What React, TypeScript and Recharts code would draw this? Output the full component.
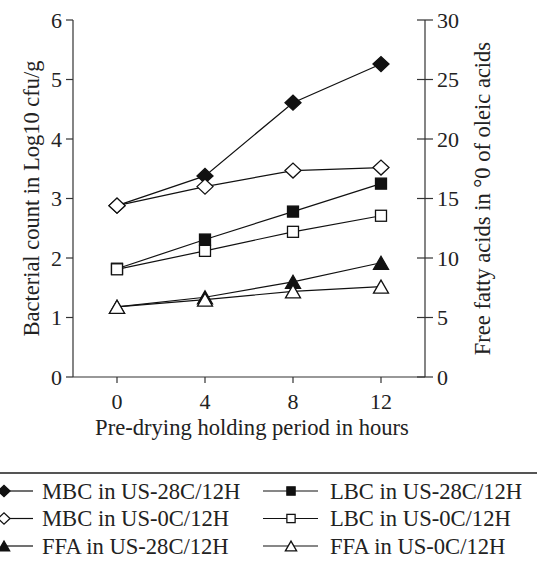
import React from 'react';
import { LineChart, Line, XAxis, YAxis } from 'recharts';

// values
const hours = [0, 4, 8, 12];
const mbcWarm = [2.88, 3.38, 4.61, 5.26];
const mbcCold = [2.88, 3.2, 3.47, 3.52];
const lbcWarm = [1.82, 2.31, 2.78, 3.25];
const lbcCold = [1.81, 2.12, 2.44, 2.71];
const ffaWarm = [5.9, 6.7, 8.0, 9.6];
const ffaCold = [5.9, 6.5, 7.2, 7.6];

const leftTicks = [0, 1, 2, 3, 4, 5, 6];
const rightTicks = [0, 5, 10, 15, 20, 25, 30];
const hourTicks = [0, 4, 8, 12];

const FONT = '"Liberation Serif", "Times New Roman", serif';

type Shape = 'diamond' | 'square' | 'triangle';

const series = [
  { key: 'mbcWarm', name: 'MBC in US-28C/12H', shape: 'diamond' as Shape, filled: true, axis: 'left' },
  { key: 'mbcCold', name: 'MBC in US-0C/12H', shape: 'diamond' as Shape, filled: false, axis: 'left' },
  { key: 'ffaWarm', name: 'FFA in US-28C/12H', shape: 'triangle' as Shape, filled: true, axis: 'right' },
  { key: 'lbcWarm', name: 'LBC in US-28C/12H', shape: 'square' as Shape, filled: true, axis: 'left' },
  { key: 'lbcCold', name: 'LBC in US-0C/12H', shape: 'square' as Shape, filled: false, axis: 'left' },
  { key: 'ffaCold', name: 'FFA in US-0C/12H', shape: 'triangle' as Shape, filled: false, axis: 'right' },
];

const data = hours.map((h, i) => ({
  h,
  mbcWarm: mbcWarm[i],
  mbcCold: mbcCold[i],
  lbcWarm: lbcWarm[i],
  lbcCold: lbcCold[i],
  ffaWarm: ffaWarm[i],
  ffaCold: ffaCold[i],
}));

function Marker({ shape, filled, cx, cy, s = 1 }: { shape: Shape; filled: boolean; cx: number; cy: number; s?: number }) {
  const fill = filled ? '#111' : '#fff';
  if (shape === 'diamond') {
    const w = 8 * s, hh = 7.5 * s;
    return <polygon points={`${cx - w},${cy} ${cx},${cy - hh} ${cx + w},${cy} ${cx},${cy + hh}`} fill={fill} stroke="#111" strokeWidth={1.3} />;
  }
  if (shape === 'square') {
    const a = 5.5 * s;
    return <rect x={cx - a} y={cy - a} width={2 * a} height={2 * a} fill={fill} stroke="#111" strokeWidth={1.3} />;
  }
  const w = 7.5 * s, hh = 6.5 * s;
  return <polygon points={`${cx - w},${cy + hh} ${cx},${cy - hh} ${cx + w},${cy + hh}`} fill={fill} stroke="#111" strokeWidth={1.3} />;
}

const makeDot = (shape: Shape, filled: boolean) => (p: any) => (
  <Marker key={`${p.dataKey}-${p.index}`} shape={shape} filled={filled} cx={p.cx} cy={p.cy} />
);

const RightTick = (p: any) => (
  <g>
    <line x1={p.x - 20} x2={p.x - 4} y1={p.y} y2={p.y} stroke="#333" strokeWidth={1.2} />
    <text x={p.x} y={p.y} dy="0.355em" textAnchor="start" fontFamily={FONT} fontSize={22} fill="#222">
      {p.payload.value}
    </text>
  </g>
);

const SideLabel = ({ viewBox, value, dx }: any) => {
  const x = viewBox.x + dx;
  const y = viewBox.y + viewBox.height / 2;
  return (
    <text x={x} y={y} transform={`rotate(-90 ${x} ${y})`} textAnchor="middle" dominantBaseline="central" fontFamily={FONT} fontSize={22.5} fill="#222">
      {value}
    </text>
  );
};

const BottomLabel = ({ viewBox, value }: any) => (
  <text x={viewBox.x + viewBox.width / 2 + 3} y={viewBox.y + 58} textAnchor="middle" fontFamily={FONT} fontSize={22.6} fill="#222">
    {value}
  </text>
);

const tickStyle = { fontFamily: FONT, fontSize: 22, fill: '#222' };
const axisLine = { stroke: '#333', strokeWidth: 1.2 };

export default function App() {
  const leftCol = series.slice(0, 3);
  const rightCol = series.slice(3);
  return (
    <div style={{ position: 'absolute', left: 0, top: 0, width: 537, height: 570, background: '#fff' }}>
      <LineChart width={537} height={440} data={data} margin={{ top: 20, right: 0, bottom: 0, left: 0 }}>
        <XAxis
          xAxisId="b"
          dataKey="h"
          type="number"
          domain={[-2, 14]}
          ticks={hourTicks}
          height={63}
          tickSize={6}
          tickMargin={10}
          tick={tickStyle}
          axisLine={axisLine}
          tickLine={axisLine}
          label={<BottomLabel value="Pre-drying holding period in hours" />}
        />
        <XAxis xAxisId="t" orientation="top" dataKey="h" type="number" domain={[-2, 14]} height={0} tick={false} tickLine={false} axisLine={axisLine} />
        <YAxis
          yAxisId="left"
          domain={[0, 6]}
          ticks={leftTicks}
          width={73}
          tickSize={7}
          tickMargin={4}
          tick={tickStyle}
          axisLine={axisLine}
          tickLine={axisLine}
          label={<SideLabel value="Bacterial count in Log10 cfu/g" dx={31} />}
        />
        <YAxis
          yAxisId="right"
          orientation="right"
          domain={[0, 30]}
          ticks={rightTicks}
          width={112}
          tickSize={8}
          tickMargin={4}
          tick={<RightTick />}
          tickLine={false}
          axisLine={axisLine}
          label={<SideLabel value="Free fatty acids in °0 of oleic acids" dx={57} />}
        />
        {series.map((s) => (
          <Line
            key={s.key}
            xAxisId="b"
            yAxisId={s.axis}
            dataKey={s.key}
            name={s.name}
            stroke="#111"
            strokeWidth={1.2}
            dot={makeDot(s.shape, s.filled)}
            activeDot={false}
            isAnimationActive={false}
          />
        ))}
      </LineChart>
      <svg width={537} height={130} style={{ display: 'block' }}>
        <line x1={0} x2={537} y1={33} y2={33} stroke="#555" strokeWidth={2} />
        {leftCol.map((s, i) => {
          const y = 51 + i * 27.5;
          return (
            <g key={s.key}>
              <line x1={3} x2={33} y1={y} y2={y} stroke="#111" strokeWidth={1.2} />
              <Marker shape={s.shape} filled={s.filled} cx={4} cy={y} s={0.75} />
              <text x={42} y={y} dy="0.35em" fontFamily={FONT} fontSize={22.6} fill="#222">{s.name}</text>
            </g>
          );
        })}
        {rightCol.map((s, i) => {
          const y = 51 + i * 27.5;
          return (
            <g key={s.key}>
              <line x1={263} x2={318} y1={y} y2={y} stroke="#111" strokeWidth={1.2} />
              <Marker shape={s.shape} filled={s.filled} cx={291} cy={y} s={0.75} />
              <text x={330} y={y} dy="0.35em" fontFamily={FONT} fontSize={22.6} fill="#222">{s.name}</text>
            </g>
          );
        })}
      </svg>
    </div>
  );
}
